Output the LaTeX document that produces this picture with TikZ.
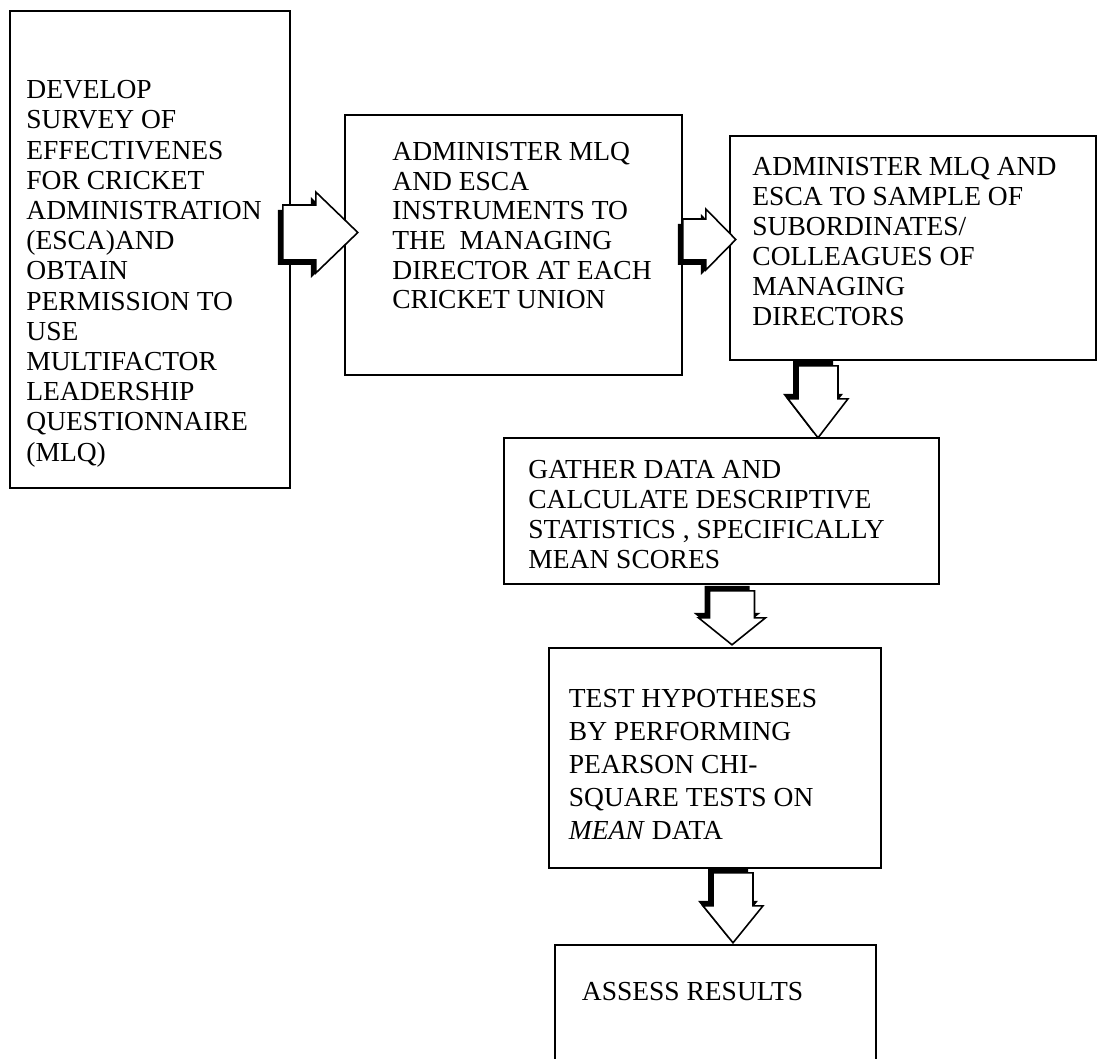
\documentclass[tikz,border=0pt]{standalone}
\usepackage{fontspec}
\setmainfont{Liberation Serif}
\tikzset{
  box/.style={draw, line width=0.8pt, inner sep=0pt},
  boxtext/.style={anchor=north west, inner sep=0pt, align=left, font=\fontsize{13.75}{15}\selectfont},
  pics/blockarrow/.style args={#1/#2/#3/#4}{code={
    \fill[shift={(-5,5)}] (0,-#2) -- ({#1-#4},-#2) -- ({#1-#4},-#3) -- (#1,0) -- ({#1-#4},#3) -- ({#1-#4},#2) -- (0,#2) -- cycle;
    \filldraw[fill=white, line width=0.8pt] (0,-#2) -- ({#1-#4},-#2) -- ({#1-#4},-#3) -- (#1,0) -- ({#1-#4},#3) -- ({#1-#4},#2) -- (0,#2) -- cycle;
  }}
}

\begin{document}
\begin{tikzpicture}[x=0.5pt, y=-0.5pt]
    \path[use as bounding box] (0,0) rectangle (1097,1059);
    \clip (0,0) rectangle (1097,1059);
    \node[box, minimum width=140pt, minimum height=238.5pt] (develop) at (150,249.5) {};
    \node[box, minimum width=168.5pt, minimum height=130pt] (adminmd) at (513.5,245) {};
    \node[box, minimum width=183pt, minimum height=112pt] (adminsub) at (913,248) {};
    \node[box, minimum width=217.5pt, minimum height=73pt] (gather) at (721.5,511) {};
    \node[box, minimum width=166pt, minimum height=110pt] (test) at (715,758) {};
    \node[box, minimum width=160.5pt, minimum height=60pt] (assess) at (715.5,1005) {};
    \pic at ([shift={(-8,-17)}]develop.east) {blockarrow=75/27.5/40.5/42};
    \pic at ([shift={(0,-5.5)}]adminmd.east) {blockarrow=53/20.5/30.5/30};
    \pic[rotate=-90] at ([shift={(-95,5)}]adminsub.south) {blockarrow=72/20/30/39};
    \pic[rotate=-90] at ([shift={(10.5,6)}]gather.south) {blockarrow=54/22.5/33.5/27};
    \pic[rotate=-90] at ([shift={(18,4)}]test.south) {blockarrow=70/20/30/37};
    \node[boxtext, font=\fontsize{13.75}{15.1}\selectfont] (developtext) at (26,80) {DEVELOP\\SURVEY OF\\EFFECTIVENES\\FOR CRICKET\\ADMINISTRATION\\(ESCA)AND\\OBTAIN\\PERMISSION TO\\USE\\MULTIFACTOR\\LEADERSHIP\\QUESTIONNAIRE\\(MLQ)};
    \node[boxtext, font=\fontsize{13.75}{14.8}\selectfont] (adminmdtext) at (392,142) {ADMINISTER MLQ\\AND ESCA\\INSTRUMENTS TO\\THE\ \ MANAGING\\DIRECTOR AT EACH\\CRICKET UNION};
    \node[boxtext] (adminsubtext) at (752,157) {ADMINISTER MLQ AND\\ESCA TO SAMPLE OF\\SUBORDINATES/\\COLLEAGUES OF\\MANAGING\\DIRECTORS};
    \node[boxtext] (gathertext) at (528,460) {GATHER DATA AND\\CALCULATE DESCRIPTIVE\\STATISTICS , SPECIFICALLY\\MEAN SCORES};
    \node[boxtext, font=\fontsize{13.75}{16.5}\selectfont] (testtext) at (568.5,689) {TEST HYPOTHESES\\BY PERFORMING\\PEARSON CHI-\\SQUARE TESTS ON\\\textit{MEAN} DATA};
    \node[boxtext] (assesstext) at (581.5,982) {ASSESS RESULTS};
\end{tikzpicture}
\end{document}
